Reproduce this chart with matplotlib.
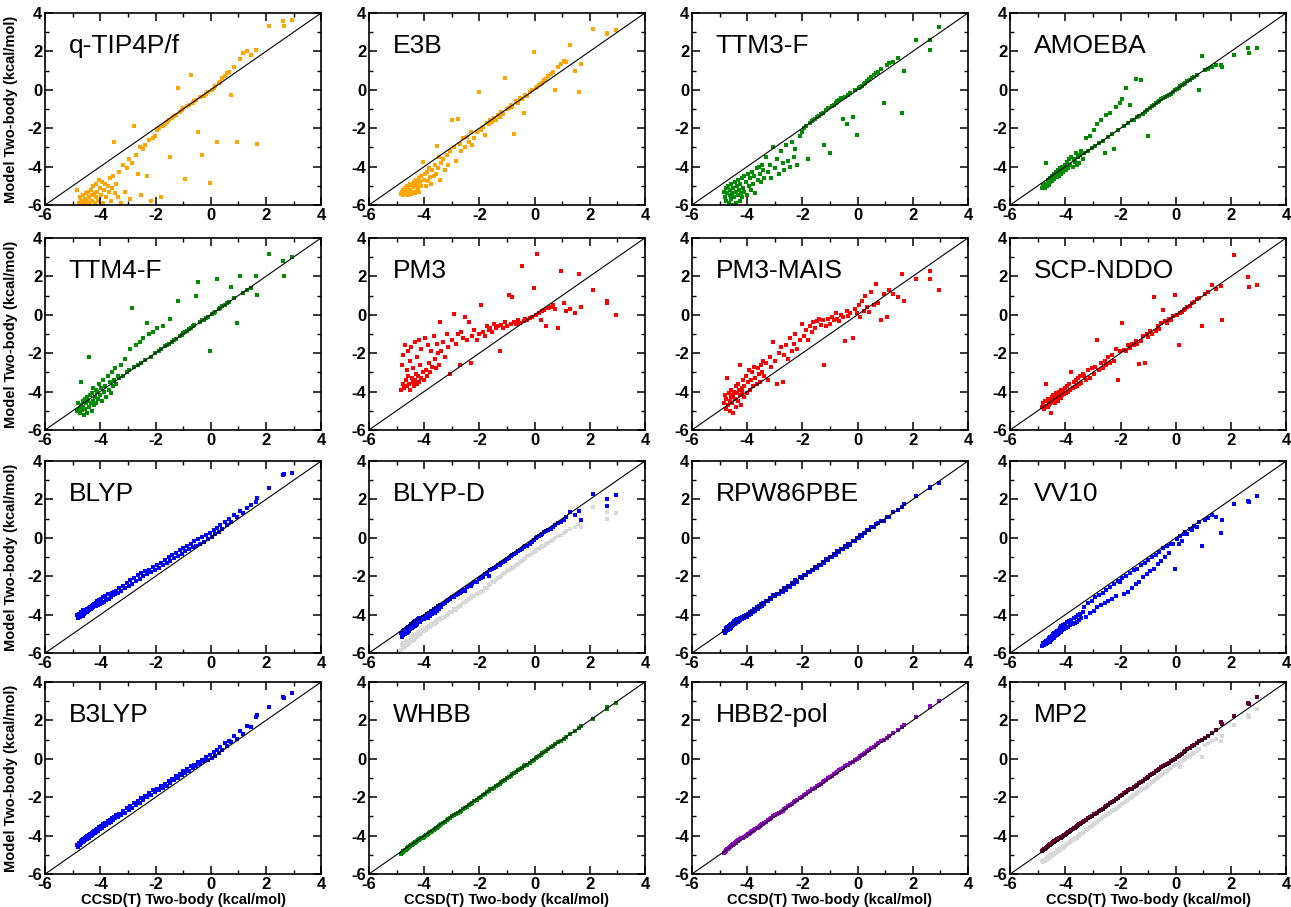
import matplotlib.pyplot as plt
from matplotlib.ticker import MultipleLocator

plt.rcParams['font.family'] = ['Liberation Sans', 'DejaVu Sans']
plt.rcParams['axes.unicode_minus'] = False

# limites comunes de los ejes (kcal/mol)
lims = [-6, 4]

# energia de dos cuerpos CCSD(T), comun a todos los paneles
ccsdt = [
    -4.85, -4.82, -4.78, -4.75, -4.72, -4.70, -4.67, -4.64, -4.62, -4.60,
    -4.57, -4.55, -4.52, -4.50, -4.47, -4.45, -4.42, -4.40, -4.37, -4.35,
    -4.32, -4.30, -4.27, -4.25, -4.22, -4.20, -4.17, -4.15, -4.12, -4.10,
    -4.06, -4.02, -3.98, -3.94, -3.90, -3.86, -3.82, -3.78, -3.74, -3.70,
    -3.66, -3.62, -3.58, -3.54, -3.50, -3.46, -3.42, -3.38,
    -3.32, -3.25, -3.18, -3.12, -3.05, -2.98, -2.92, -2.85, -2.78, -2.72,
    -2.65, -2.58, -2.52, -2.45, -2.38, -2.32, -2.25, -2.18, -2.10, -2.03,
    -1.95, -1.88, -1.80, -1.73, -1.66, -1.60, -1.53, -1.46, -1.40, -1.33,
    -1.26, -1.20, -1.13, -1.06, -1.00, -0.93, -0.86, -0.80, -0.73, -0.66,
    -0.60, -0.53, -0.46, -0.40, -0.33, -0.26, -0.18, -0.10,
    -0.03, 0.04, 0.10, 0.16, 0.22, 0.28, 0.35, 0.42, 0.50, 0.58,
    0.66, 0.75, 0.85, 0.95, 1.05, 1.15,
    1.30, 1.45, 1.62, 1.68, 2.10, 2.62, 2.64, 2.95,
]

qtip4pf = [
    -5.2, -6.3, -5.9, -5.6, -6.2, -5.8, -6.4, -5.5, -5.9, -6.1,
    -5.7, -6.0, -5.4, -5.8, -6.3, -5.3, -5.9, -5.6, -6.1, -5.2,
    -5.8, -5.5, -6.2, -5.0, -5.4, -5.9, -4.9, -5.6, -5.3, -5.8,
    -4.7, -5.1, -5.5, -4.8, -5.9, -5.2, -4.9, -5.6, -5.0, -5.3,
    -4.6, -5.8, -5.1, -4.5, -2.7, -5.4, -4.9, -5.6,
    -4.3, -5.9, -3.9, -5.3, -4.1, -3.6, -5.7, -3.8, -1.9, -3.4,
    -4.4, -3.0, -5.5, -3.1, -2.9, -4.5, -2.6, -5.8, -2.5, -2.4,
    -2.1, -2.0, -5.6, -1.9, -1.8, -1.7, -1.6, -3.5, -1.45, -1.35,
    -1.3, 0.1, -1.15, -1.05, -0.95, -4.65, -0.85, -0.8, 0.75, -0.7,
    -0.6, -0.55, -2.2, -0.4, -3.4, -0.3, -0.2, -0.1,
    -4.85, 0.0, 0.1, 0.2, -2.7, 0.35, 0.4, 0.6, 0.7, 0.85,
    0.95, -0.25, 1.2, -2.7, 1.6, 1.9,
    2.0, 1.8, 2.05, -2.8, 3.3, 3.6, 3.3, 3.65,
]

e3b = [
    -5.45, -5.3, -5.5, -5.2, -5.4, -5.1, -5.45, -5.0, -5.3, -5.5,
    -5.1, -5.35, -4.9, -5.2, -5.45, -4.95, -5.3, -5.05, -4.8, -5.4,
    -5.0, -4.7, -5.25, -4.9, -5.1, -4.6, -5.3, -4.8, -4.5, -5.0,
    -3.75, -4.7, -4.4, -5.0, -4.3, -4.75, -4.1, -4.55, -4.9, -4.2,
    -4.5, -3.9, -4.4, -2.95, -4.1, -3.5, -4.7, -3.8,
    -3.6, -4.2, -3.4, -3.9, -3.2, -1.55, -3.0, -3.7, -1.5, -2.8,
    -3.2, -2.5, -3.0, -2.45, -2.7, -2.2, -2.9, -2.5, -2.2, -0.1,
    -2.1, -1.95, -2.35, -1.75, -1.8, -1.6, -1.7, -1.45, -1.55, -1.3,
    -1.4, -1.15, -1.25, 0.6, -1.0, -0.95, -0.8, -0.9, -2.3, -0.6,
    -0.7, -0.45, -0.5, -1.2, -0.25, -0.3, -0.1, 0.0,
    1.95, 0.1, 0.15, 0.25, 0.3, 0.35, 0.5, 0.55, 0.7, 0.8,
    0.95, 0.0, 1.2, 1.35, 1.5, 1.45,
    2.35, 1.0, -0.1, 1.35, 3.15, 2.95, 2.9, 3.1,
]

ttm3f = [
    -5.3, -5.6, -5.1, -5.8, -5.4, -5.0, -5.9, -5.5, -5.2, -5.7,
    -4.9, -5.4, -6.0, -5.1, -5.6, -4.8, -5.3, -5.9, -5.0, -5.5,
    -4.7, -5.2, -5.8, -4.9, -5.4, -4.6, -5.6, -5.1, -4.5, -5.3,
    -4.8, -5.5, -4.4, -5.0, -4.6, -5.2, -4.3, -4.9, -4.5, -5.4,
    -4.1, -4.7, -4.0, -4.4, -4.8, -3.9, -4.2, -4.6,
    -3.5, -4.3, -3.9, -4.6, -3.0, -4.1, -3.6, -4.4, -3.2, -3.8,
    -4.2, -2.9, -3.7, -4.0, -2.7, -3.5, -3.1, -3.9, -2.4, -2.2,
    -2.0, -1.9, -3.6, -1.75, -1.65, -1.6, -1.5, -1.4, -1.35, -1.25,
    -1.2, -2.9, -1.05, -0.95, -3.3, -0.85, -0.8, -0.7, -0.6, -0.55,
    -0.45, -1.5, -0.4, -1.8, -0.25, -0.15, -1.4, 0.0,
    -2.35, 0.1, 0.15, 0.2, 0.3, 0.35, 0.45, 0.55, 0.65, 0.75,
    0.85, 0.95, 1.1, -0.7, 1.3, 1.4,
    1.45, 1.65, -1.2, 1.0, 2.6, 2.6, 2.05, 3.25,
]

amoeba = [
    -5.1, -5.0, -4.95, -5.1, -3.8, -4.9, -5.0, -4.7, -4.85, -4.95,
    -4.6, -4.8, -4.7, -4.5, -4.75, -4.6, -4.4, -4.65, -4.5, -4.3,
    -4.55, -4.4, -4.2, -4.5, -4.3, -4.1, -4.4, -4.2, -4.0, -4.3,
    -4.1, -3.9, -4.2, -3.75, -4.05, -3.6, -3.9, -3.5, -4.0, -3.6,
    -3.75, -3.3, -3.9, -3.5, -3.8, -3.4, -3.2, -3.6,
    -3.3, -2.5, -3.2, -2.4, -3.05, -2.1, -2.95, -1.8, -2.75, -1.6,
    -2.65, -3.3, -1.3, -2.45, -1.2, -2.3, -3.1, -0.9, -2.1, -0.7,
    -0.5, -1.9, 0.1, -1.75, -0.8, -1.6, -1.55, 0.55, -1.4, -1.35,
    0.5, -1.25, -1.15, -1.05, -2.4, -0.95, -0.85, -0.8, -0.7, -0.65,
    -0.6, -0.5, -0.45, -0.4, -0.3, -0.25, -0.2, -0.1,
    0.0, 0.05, 0.1, 0.2, 0.25, 0.3, 0.35, 0.45, 0.5, 0.6,
    0.65, 0.75, 0.0, 1.75, 1.05, 1.1,
    1.2, 1.3, 1.3, 1.2, 1.8, 2.15, 1.9, 2.2,
]

ttm4f = [
    -5.0, -4.6, -4.9, -5.1, -3.5, -4.7, -4.95, -4.5, -4.8, -5.2,
    -4.4, -4.9, -4.6, -4.3, -5.1, -4.5, -2.2, -4.8, -4.2, -4.6,
    -5.0, -4.1, -4.5, -3.8, -4.7, -4.3, -3.9, -4.6, -4.0, -4.4,
    -3.6, -4.2, -3.8, -4.5, -3.4, -4.0, -3.7, -4.3, -3.2, -3.9,
    -3.5, -4.1, -3.0, -3.7, -3.4, -2.8, -3.6, -3.2,
    -3.3, -2.6, -3.2, -2.3, -3.0, -2.9, -1.8, 0.35, -2.7, -1.6,
    -2.6, -1.4, -2.5, -1.2, -2.35, -0.45, -1.0, -2.2, -0.9, -2.0,
    -0.7, -1.9, -1.8, -0.6, -1.65, -1.6, -1.5, -0.2, -1.4, -1.3,
    -1.25, 0.7, -1.1, -1.05, -0.95, -0.9, -0.85, -0.75, -0.7, -0.6,
    -0.55, 1.0, 1.7, -0.4, -0.3, -0.25, -0.15, -0.1,
    -1.9, 0.05, 0.1, 0.15, 1.85, 0.3, 0.35, 0.45, 0.5, 0.6,
    0.65, 1.45, 0.85, -0.45, 2.0, 1.15,
    1.3, 1.4, 2.0, 1.05, 3.15, 2.8, 2.0, 3.0,
]

pm3 = [
    -3.9, -2.6, -3.6, -2.1, -3.8, -1.6, -3.4, -2.9, -3.7, -1.9,
    -3.2, -3.6, -2.4, -3.9, -1.7, -3.3, -3.5, -2.8, -3.7, -1.4,
    -3.4, -3.1, -2.2, -3.6, -3.2, -1.3, -3.5, -2.6, -3.3, -1.8,
    -3.0, -3.4, -1.2, -2.9, -3.2, -1.6, -2.5, -3.0, -1.9, -2.7,
    -1.1, -2.3, -2.8, -1.5, -2.0, -2.6, -0.4, -1.9,
    -1.4, -2.2, -1.0, -1.7, -3.1, -1.3, 0.05, -1.5, -1.0, -2.6,
    -0.9, -1.2, -0.1, -1.3, -0.4, -2.5, -1.1, -0.8, -1.3, -1.0,
    0.5, -0.9, -1.1, -0.6, -0.8, -0.7, -0.9, -0.5, -0.7, -0.6,
    -1.9, -0.55, -0.7, -0.4, -0.6, 1.05, -0.5, 0.9, -0.4, -0.5,
    -0.3, -0.45, 2.55, -0.35, -0.2, -0.3, -0.15, -0.1,
    1.4, 0.0, 3.15, 0.1, -0.3, 0.2, 0.25, -0.6, 0.35, 0.4,
    0.5, 0.3, -0.7, 2.3, 0.6, 0.2,
    0.3, 0.1, 2.1, 0.4, 1.3, 0.7, 0.6, 0.0,
]

pm3mais = [
    -4.6, -4.2, -4.9, -4.4, -3.3, -4.7, -4.1, -4.5, -5.0, -4.3,
    -3.9, -4.6, -4.2, -5.1, -4.0, -4.4, -3.7, -4.8, -4.1, -3.6,
    -4.5, -3.9, -4.2, -2.6, -4.7, -3.8, -4.0, -3.4, -4.3, -3.7,
    -3.2, -4.1, -3.5, -2.9, -3.9, -3.4, -3.0, -3.7, -2.7, -3.3,
    -3.6, -2.8, -3.1, -3.5, -2.6, -3.0, -2.4, -3.2,
    -2.5, -3.4, -2.2, -2.7, -1.4, -2.4, -3.6, -2.0, -1.7, -3.5,
    -2.1, -1.6, -2.3, -1.2, -1.9, -1.5, -1.0, -1.8, -1.3, -0.5,
    -1.1, -0.8, -1.3, -0.6, -0.9, -0.4, -0.7, -0.35, -0.2, -0.55,
    -0.3, -2.6, -0.6, -0.2, -0.5, -0.1, -0.3, 0.1, -0.2, -0.35,
    0.0, -0.1, -1.35, 0.2, -0.05, 0.1, -1.2, 0.3,
    0.1, 0.5, -0.1, 0.7, 0.2, 1.0, 0.4, 0.15, 1.2, 0.5,
    1.6, 0.6, -0.3, 1.1, -0.1, 1.3,
    1.1, 0.9, 2.1, 0.7, 1.85, 2.3, 1.85, 1.3,
]

scpnddo = [
    -4.8, -4.6, -4.9, -4.5, -3.6, -4.75, -4.5, -4.8, -4.4, -4.7,
    -4.45, -4.6, -5.1, -4.3, -4.55, -4.2, -4.5, -4.3, -4.6, -4.1,
    -4.4, -4.2, -4.5, -4.0, -4.3, -4.1, -4.35, -3.9, -4.2, -4.0,
    -4.15, -3.8, -4.1, -3.7, -4.0, -3.6, -3.9, -3.0, -3.8, -3.5,
    -3.75, -3.4, -3.7, -3.3, -3.6, -3.2, -3.55, -3.1,
    -3.2, -3.4, -2.9, -3.3, -2.8, -3.1, -2.7, -1.3, -2.9, -2.5,
    -2.8, -2.4, -2.6, -2.2, -2.5, -2.1, -2.4, -1.8, -3.4, -1.9,
    -0.45, -1.85, -1.9, -1.6, -1.75, -1.5, -1.6, -1.35, -1.5, -2.55,
    -1.35, -1.1, -2.5, -1.0, -1.15, -0.85, -1.0, 0.9, -0.85, -0.6,
    -0.75, -0.45, 0.25, -0.35, -0.45, -0.2, -0.3, -0.05,
    1.05, 0.0, -1.6, 0.1, 0.15, 0.25, 0.3, 0.4, 0.45, 0.6,
    0.65, 0.8, 0.85, -0.6, 1.1, 1.2,
    1.55, 1.35, 1.5, -0.3, 3.1, 1.95, 1.45, 1.55,
]

blyp = [
    -4.0, -4.15, -3.95, -4.1, -3.85, -4.05, -3.85, -4.05, -3.75, -3.95,
    -3.75, -3.9, -3.75, -3.85, -3.7, -3.8, -3.65, -3.75, -3.6, -3.7,
    -3.55, -3.65, -3.5, -3.6, -3.45, -3.55, -3.4, -3.55, -3.3, -3.5,
    -3.25, -3.45, -3.2, -3.4, -3.1, -3.35, -3.05, -3.25, -2.95, -3.2,
    -2.9, -3.1, -2.85, -3.0, -2.8, -2.9, -2.75, -2.85,
    -2.6, -2.75, -2.5, -2.6, -2.35, -2.5, -2.2, -2.4, -2.1, -2.25,
    -1.95, -2.15, -1.85, -2.0, -1.75, -1.9, -1.65, -1.8, -1.5, -1.7,
    -1.4, -1.55, -1.3, -1.4, -1.15, -1.3, -1.0, -1.2, -0.9, -1.05,
    -0.8, -0.95, -0.65, -0.85, -0.55, -0.7, -0.4, -0.6, -0.3, -0.5,
    -0.15, -0.4, -0.05, -0.3, 0.05, -0.2, 0.15, -0.05,
    0.25, 0.05, 0.4, 0.2, 0.5, 0.3, 0.65, 0.45, 0.85, 0.65,
    1.0, 0.85, 1.2, 1.1, 1.4, 1.3,
    1.55, 1.7, 1.85, 2.05, 2.6, 3.25, 3.3, 3.4,
]

blypd = [
    -4.95, -5.15, -4.85, -5.05, -4.8, -5.0, -4.75, -4.95, -4.7, -4.9,
    -4.65, -4.85, -4.6, -4.75, -4.5, -4.7, -4.45, -4.65, -4.4, -4.6,
    -4.35, -4.55, -4.3, -4.5, -4.25, -4.4, -4.2, -4.4, -4.15, -4.3,
    -4.1, -4.25, -4.05, -4.2, -3.95, -4.15, -3.9, -4.05, -3.8, -3.95,
    -3.7, -3.9, -3.65, -3.8, -3.55, -3.7, -3.5, -3.6,
    -3.45, -3.4, -3.3, -3.25, -3.2, -3.1, -3.1, -3.0, -2.9, -2.85,
    -2.8, -2.7, -2.75, -2.55, -2.5, -2.5, -2.4, -2.3, -2.3, -2.15,
    -2.1, -2.05, -1.9, -1.85, -2.0, -1.7, -1.6, -1.55, -1.5, -1.4,
    -1.4, -1.3, -1.25, -1.2, -1.1, -1.05, -0.95, -0.9, -0.85, -0.8,
    -0.7, -0.65, -0.6, -0.5, -0.45, -0.4, -0.3, -0.2,
    -0.1, 0.0, 0.05, 0.1, 0.15, 0.2, 0.3, 0.35, 0.4, 0.45,
    0.55, 0.65, 0.75, 0.85, 0.95, 1.1,
    1.35, 1.2, 1.4, 0.95, 2.3, 2.0, 1.65, 2.25,
]

blypd_gris = [
    -5.85, -5.6, -5.75, -5.5, -5.65, -5.7, -5.45, -5.6, -5.4, -5.55,
    -5.35, -5.5, -5.3, -5.45, -5.2, -5.35, -5.25, -5.1, -5.3, -5.05,
    -5.2, -5.1, -5.0, -5.15, -4.95, -5.05, -4.9, -5.0, -4.85, -4.95,
    -4.8, -4.85, -4.75, -4.8, -4.65, -4.7, -4.6, -4.65, -4.5, -4.55,
    -4.45, -4.5, -4.35, -4.4, -4.3, -4.25, -4.3, -4.15,
    -4.15, -4.1, -4.0, -3.95, -3.85, -3.85, -3.7, -3.75, -3.6, -3.55,
    -3.5, -3.4, -3.35, -3.3, -3.2, -3.15, -3.05, -3.05, -2.9, -2.85,
    -2.8, -2.75, -2.6, -2.6, -2.45, -2.4, -2.3, -2.3, -2.2, -2.1,
    -2.05, -2.0, -1.9, -1.85, -1.75, -1.7, -1.6, -1.55, -1.5, -1.4,
    -1.35, -1.25, -1.2, -1.1, -1.05, -0.95, -0.9, -0.8,
    -0.75, -0.7, -0.6, -0.6, -0.5, -0.4, -0.4, -0.3, -0.25, -0.15,
    -0.1, 0.0, 0.1, 0.15, 0.25, 0.35,
    0.45, 0.55, 0.7, 0.55, 1.6, 1.35, 1.0, 1.3,
]

rpw86pbe = [
    -4.85, -4.95, -4.7, -4.85, -4.65, -4.8, -4.6, -4.75, -4.55, -4.7,
    -4.5, -4.6, -4.45, -4.55, -4.35, -4.5, -4.3, -4.45, -4.25, -4.4,
    -4.25, -4.35, -4.2, -4.3, -4.15, -4.25, -4.1, -4.2, -4.05, -4.15,
    -4.0, -4.1, -3.95, -4.0, -3.85, -3.95, -3.8, -3.85, -3.7, -3.8,
    -3.6, -3.7, -3.55, -3.6, -3.45, -3.55, -3.4, -3.45,
    -3.3, -3.3, -3.15, -3.2, -3.0, -3.05, -2.9, -2.95, -2.75, -2.8,
    -2.6, -2.7, -2.5, -2.55, -2.35, -2.4, -2.2, -2.3, -2.05, -2.1,
    -1.95, -1.95, -1.8, -1.8, -1.65, -1.7, -1.5, -1.55, -1.4, -1.4,
    -1.25, -1.3, -1.1, -1.15, -1.0, -1.0, -0.85, -0.9, -0.7, -0.75,
    -0.6, -0.6, -0.45, -0.5, -0.3, -0.35, -0.15, -0.15,
    0.0, 0.0, 0.15, 0.1, 0.25, 0.25, 0.4, 0.4, 0.55, 0.55,
    0.7, 0.75, 0.9, 0.9, 1.1, 1.1,
    1.35, 1.45, 1.6, 1.75, 2.2, 2.65, 2.6, 2.85,
]

vv10 = [
    -5.65, -5.5, -5.6, -5.4, -5.55, -5.35, -5.5, -5.3, -5.45, -5.2,
    -5.4, -5.15, -5.3, -5.1, -5.25, -5.0, -5.2, -4.95, -5.1, -4.9,
    -5.05, -4.85, -5.0, -4.8, -4.95, -4.7, -4.9, -4.6, -4.8, -4.55,
    -4.75, -4.5, -4.7, -4.4, -4.65, -4.35, -4.55, -4.3, -4.5, -4.2,
    -4.45, -4.1, -4.4, -4.0, -4.3, -3.95, -4.2, -3.85,
    -3.6, -4.1, -3.4, -3.9, -3.3, -3.8, -3.1, -3.6, -3.0, -3.5,
    -2.85, -3.4, -2.7, -3.3, -2.55, -3.2, -2.4, -3.05, -2.25, -2.3,
    -2.1, -2.9, -2.0, -2.8, -1.85, -2.6, -1.7, -2.4, -1.6, -2.3,
    -1.4, -2.05, -1.3, -1.9, -1.15, -1.75, -1.0, -1.6, -0.9, -1.35,
    -0.75, -1.2, -0.55, -1.0, -0.45, -0.8, -0.3, -0.3,
    -1.6, -0.05, -0.3, 0.1, -0.15, 0.2, 0.3, 0.2, 0.45, 0.4,
    0.6, 0.55, 0.8, -0.45, 0.95, 1.05,
    1.2, 1.1, 0.25, 0.95, 1.75, 1.9, 1.85, 2.2,
]

b3lyp = [
    -4.5, -4.6, -4.4, -4.5, -4.3, -4.4, -4.25, -4.35, -4.2, -4.3,
    -4.15, -4.25, -4.05, -4.2, -4.0, -4.1, -3.95, -4.1, -3.9, -4.0,
    -3.85, -3.95, -3.8, -3.9, -3.75, -3.85, -3.7, -3.8, -3.65, -3.75,
    -3.55, -3.65, -3.5, -3.6, -3.4, -3.5, -3.35, -3.45, -3.25, -3.35,
    -3.2, -3.3, -3.1, -3.2, -3.05, -3.1, -2.95, -3.05,
    -2.85, -2.95, -2.7, -2.8, -2.55, -2.65, -2.45, -2.55, -2.3, -2.4,
    -2.2, -2.3, -2.05, -2.15, -1.95, -2.0, -1.8, -1.9, -1.65, -1.75,
    -1.55, -1.65, -1.4, -1.5, -1.3, -1.4, -1.15, -1.25, -1.05, -1.1,
    -0.9, -1.0, -0.8, -0.85, -0.65, -0.75, -0.55, -0.65, -0.4, -0.5,
    -0.3, -0.4, -0.15, -0.25, -0.05, -0.1, 0.1, -0.05,
    0.2, 0.05, 0.35, 0.15, 0.45, 0.3, 0.6, 0.45, 0.8, 0.65,
    0.95, 0.85, 1.2, 1.05, 1.45, 1.3,
    1.7, 1.65, 2.2, 2.3, 2.7, 3.2, 3.15, 3.4,
]

whbb = [
    -4.95, -4.9, -4.85, -4.8, -4.8, -4.75, -4.75, -4.7, -4.65, -4.65,
    -4.6, -4.6, -4.55, -4.55, -4.5, -4.5, -4.45, -4.45, -4.4, -4.4,
    -4.35, -4.35, -4.3, -4.3, -4.25, -4.25, -4.2, -4.2, -4.15, -4.15,
    -4.1, -4.05, -4.0, -3.95, -3.95, -3.9, -3.85, -3.8, -3.8, -3.75,
    -3.7, -3.65, -3.6, -3.6, -3.55, -3.5, -3.45, -3.4,
    -3.35, -3.3, -3.2, -3.15, -3.1, -3.0, -2.95, -2.9, -2.8, -2.75,
    -2.7, -2.6, -2.55, -2.5, -2.4, -2.35, -2.3, -2.2, -2.15, -2.05,
    -2.0, -1.9, -1.85, -1.75, -1.7, -1.6, -1.55, -1.5, -1.4, -1.35,
    -1.3, -1.2, -1.15, -1.1, -1.0, -0.95, -0.9, -0.8, -0.75, -0.7,
    -0.6, -0.55, -0.5, -0.4, -0.35, -0.3, -0.2, -0.1,
    -0.05, 0.05, 0.1, 0.15, 0.2, 0.3, 0.35, 0.4, 0.5, 0.6,
    0.65, 0.75, 0.85, 0.95, 1.05, 1.15,
    1.3, 1.45, 1.6, 1.7, 2.05, 2.7, 2.6, 2.9,
]

hbb2pol = [
    -4.9, -4.85, -4.8, -4.75, -4.7, -4.7, -4.65, -4.6, -4.6, -4.55,
    -4.55, -4.5, -4.5, -4.45, -4.45, -4.4, -4.4, -4.35, -4.3, -4.3,
    -4.25, -4.25, -4.2, -4.2, -4.15, -4.15, -4.1, -4.1, -4.05, -4.05,
    -4.0, -3.95, -3.9, -3.9, -3.85, -3.8, -3.75, -3.75, -3.7, -3.65,
    -3.6, -3.6, -3.55, -3.5, -3.45, -3.4, -3.4, -3.35,
    -3.3, -3.2, -3.15, -3.1, -3.0, -2.95, -2.9, -2.8, -2.75, -2.7,
    -2.6, -2.55, -2.45, -2.4, -2.35, -2.25, -2.2, -2.15, -2.05, -2.0,
    -1.9, -1.85, -1.75, -1.7, -1.6, -1.55, -1.5, -1.4, -1.35, -1.3,
    -1.2, -1.15, -1.1, -1.0, -0.95, -0.9, -0.8, -0.75, -0.7, -0.6,
    -0.55, -0.5, -0.4, -0.35, -0.3, -0.2, -0.15, -0.05,
    0.0, 0.05, 0.15, 0.2, 0.25, 0.3, 0.4, 0.45, 0.55, 0.6,
    0.7, 0.8, 0.9, 1.0, 1.1, 1.2,
    1.35, 1.5, 1.65, 1.75, 2.2, 2.75, 2.7, 3.0,
]

mp2 = [
    -4.8, -4.75, -4.7, -4.7, -4.65, -4.65, -4.6, -4.55, -4.55, -4.5,
    -4.5, -4.45, -4.45, -4.4, -4.4, -4.35, -4.35, -4.3, -4.3, -4.25,
    -4.25, -4.2, -4.2, -4.15, -4.15, -4.1, -4.1, -4.05, -4.05, -4.0,
    -3.95, -3.95, -3.9, -3.85, -3.8, -3.8, -3.75, -3.7, -3.65, -3.6,
    -3.6, -3.55, -3.5, -3.45, -3.4, -3.4, -3.35, -3.3,
    -3.25, -3.2, -3.1, -3.05, -3.0, -2.9, -2.85, -2.8, -2.7, -2.65,
    -2.6, -2.5, -2.45, -2.4, -2.3, -2.25, -2.2, -2.1, -2.05, -1.95,
    -1.9, -1.8, -1.75, -1.65, -1.6, -1.55, -1.45, -1.4, -1.35, -1.25,
    -1.2, -1.15, -1.05, -1.0, -0.95, -0.85, -0.8, -0.75, -0.65, -0.6,
    -0.55, -0.45, -0.4, -0.35, -0.25, -0.2, -0.1, -0.05,
    0.0, 0.1, 0.15, 0.2, 0.25, 0.35, 0.4, 0.5, 0.55, 0.65,
    0.7, 0.8, 0.9, 1.0, 1.1, 1.2,
    1.35, 1.5, 1.9, 1.8, 2.25, 2.9, 2.85, 3.2,
]

mp2_gris = [
    -5.3, -5.35, -5.25, -5.3, -5.2, -5.25, -5.15, -5.2, -5.1, -5.15,
    -5.05, -5.1, -5.0, -5.05, -4.95, -5.0, -4.9, -4.95, -4.85, -4.9,
    -4.8, -4.85, -4.75, -4.8, -4.7, -4.75, -4.65, -4.7, -4.6, -4.65,
    -4.55, -4.55, -4.5, -4.45, -4.4, -4.4, -4.35, -4.3, -4.25, -4.2,
    -4.2, -4.1, -4.1, -4.0, -4.0, -3.9, -3.9, -3.85,
    -3.8, -3.7, -3.65, -3.55, -3.5, -3.4, -3.35, -3.3, -3.2, -3.15,
    -3.05, -3.0, -2.95, -2.85, -2.8, -2.7, -2.65, -2.6, -2.5, -2.45,
    -2.35, -2.3, -2.2, -2.15, -2.05, -2.0, -1.9, -1.85, -1.8, -1.7,
    -1.65, -1.55, -1.5, -1.45, -1.35, -1.3, -1.2, -1.15, -1.05, -1.0,
    -0.95, -0.85, -0.8, -0.7, -0.65, -0.55, -0.5, -0.4,
    -0.3, -0.25, -0.2, -0.45, -0.1, -0.05, 0.0, 0.1, 0.15, 0.25,
    0.3, 0.4, 0.5, 0.1, 0.7, 0.8,
    0.95, 1.05, 0.95, 1.2, 1.75, 2.3, 2.2, 2.6,
]

# (nombre, valores del modelo, color, valores de fondo en gris)
paneles = [
    ("q-TIP4P/f", qtip4pf, "#ffa500", None),
    ("E3B", e3b, "#ffa500", None),
    ("TTM3-F", ttm3f, "#008c00", None),
    ("AMOEBA", amoeba, "#008c00", None),
    ("TTM4-F", ttm4f, "#008c00", None),
    ("PM3", pm3, "#ff0000", None),
    ("PM3-MAIS", pm3mais, "#ff0000", None),
    ("SCP-NDDO", scpnddo, "#ff0000", None),
    ("BLYP", blyp, "#0000ff", None),
    ("BLYP-D", blypd, "#0000ff", blypd_gris),
    ("RPW86PBE", rpw86pbe, "#0000ff", None),
    ("VV10", vv10, "#0000ff", None),
    ("B3LYP", b3lyp, "#0000ff", None),
    ("WHBB", whbb, "#008c00", None),
    ("HBB2-pol", hbb2pol, "#9900cc", None),
    ("MP2", mp2, "#660033", mp2_gris),
]

fig = plt.figure(figsize=(12.91, 9.07), dpi=100)

izq = [0.035, 0.2858, 0.536, 0.7825]
abajo = [0.774, 0.526, 0.280, 0.0364]
ancho, alto = 0.2138, 0.2117

for i, (nombre, modelo, color, gris) in enumerate(paneles):
    fila, col = divmod(i, 4)
    ax = fig.add_axes([izq[col], abajo[fila], ancho, alto])

    if gris is not None:
        ax.scatter(ccsdt, gris, s=7, marker='s', color="#d8d8d8", linewidths=0)
    ax.scatter(ccsdt, modelo, s=7, marker='s', color=color, linewidths=0)
    ax.plot(lims, lims, color='black', linewidth=0.8)

    ax.set_xlim(lims)
    ax.set_ylim(lims)
    ax.xaxis.set_major_locator(MultipleLocator(2))
    ax.yaxis.set_major_locator(MultipleLocator(2))
    ax.xaxis.set_minor_locator(MultipleLocator(1))
    ax.yaxis.set_minor_locator(MultipleLocator(1))
    ax.tick_params(which='both', direction='in', top=True, right=True,
                   labelsize=12, pad=2)
    ax.tick_params(which='major', length=6, width=1.1)
    ax.tick_params(which='minor', length=3, width=1.0)
    plt.setp(ax.get_xticklabels() + ax.get_yticklabels(), fontweight='bold')
    for lado in ax.spines.values():
        lado.set_linewidth(1.2)

    ax.text(0.085, 0.83, nombre, transform=ax.transAxes, fontsize=19,
            va='center', ha='left')

    if col == 0:
        ax.set_ylabel('Model Two-body (kcal/mol)', fontsize=10.5, fontweight='bold')
        ax.yaxis.set_label_coords(-0.098, 0.5)
    if fila == 3:
        ax.set_xlabel('CCSD(T) Two-body (kcal/mol)', fontsize=10.5, fontweight='bold',
                      labelpad=1)

fig.savefig('out.png', dpi=100)
